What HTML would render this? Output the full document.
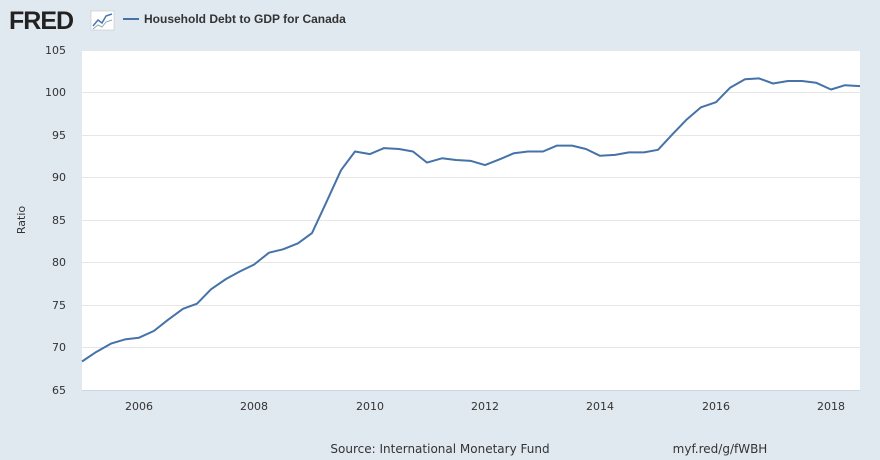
<!DOCTYPE html>
<html><head><meta charset="utf-8"><style>
html,body{margin:0;padding:0;width:880px;height:460px;background:#e1e9f0;overflow:hidden}
svg{display:block}
</style></head><body>
<svg width="880" height="460" xmlns="http://www.w3.org/2000/svg" font-family="DejaVu Sans, sans-serif">
<rect width="880" height="460" fill="#e1e9f0"/>
<text x="9" y="29" font-size="25" font-weight="bold" fill="#222" letter-spacing="-1" font-family="Liberation Sans, sans-serif">FRED</text>
<rect x="91" y="11" width="23" height="19" fill="#fff" stroke="#bbb" stroke-width="0.5"/>
<polyline points="93,26 98,20 102,23 106,16 112,14" fill="none" stroke="#4a78b0" stroke-width="1.5"/>
<polyline points="93,29 98,25 102,27 106,22 112,20" fill="none" stroke="#8ab" stroke-width="1"/>
<line x1="123" y1="19" x2="139" y2="19" stroke="#4572a7" stroke-width="2"/>
<text x="144" y="23" font-size="12" font-weight="bold" fill="#333" font-family="Liberation Sans, sans-serif">Household Debt to GDP for Canada</text>
<rect x="82" y="50" width="778" height="340" fill="#fff"/>
<g stroke="#e6e6e6" stroke-width="1">
<line x1="82" y1="50.5" x2="860" y2="50.5"/><line x1="82" y1="92.5" x2="860" y2="92.5"/>
<line x1="82" y1="135.5" x2="860" y2="135.5"/><line x1="82" y1="177.5" x2="860" y2="177.5"/>
<line x1="82" y1="220.5" x2="860" y2="220.5"/><line x1="82" y1="262.5" x2="860" y2="262.5"/>
<line x1="82" y1="305.5" x2="860" y2="305.5"/><line x1="82" y1="347.5" x2="860" y2="347.5"/>
</g>
<line x1="82" y1="390.5" x2="860" y2="390.5" stroke="#ccd6eb"/>
<g font-size="11" fill="#333" text-anchor="end">
<text x="66" y="54">105</text><text x="66" y="96">100</text><text x="66" y="139">95</text>
<text x="66" y="181">90</text><text x="66" y="224">85</text><text x="66" y="266">80</text>
<text x="66" y="309">75</text><text x="66" y="351">70</text><text x="66" y="394">65</text>
</g>
<g font-size="11" fill="#333" text-anchor="middle">
<text x="139" y="410">2006</text><text x="254" y="410">2008</text><text x="370" y="410">2010</text>
<text x="485" y="410">2012</text><text x="600" y="410">2014</text><text x="716" y="410">2016</text><text x="831" y="410">2018</text>
</g>
<text x="25" y="220" font-size="11" fill="#333" text-anchor="middle" transform="rotate(-90 25 220)">Ratio</text>
<polyline fill="none" stroke="#4572a7" stroke-width="2" stroke-linejoin="round" points="
82,361.5 96,352.1 111,343.6 125,339.4 139,337.7 154,330.9 168,319.8 183,308.8 197,303.7 211,289.3 226,279.0 240,271.4 254,264.6 269,252.7 283,249.3 298,243.3 312,233.1 327,200.8 341,170.2 355,151.5 370,154.1 384,148.1 399,149.0 413,151.5 427,162.6 442,158.3 456,160.0 471,160.9 485,165.1 500,159.2 514,153.2 528,151.5 543,151.5 557,145.6 572,145.6 586,149.0 600,155.8 615,154.9 629,152.4 644,152.4 658,149.8 673,133.7 687,119.2 701,107.3 716,102.2 730,87.8 745,79.3 759,78.4 773,83.5 788,81.0 802,81.0 816,82.7 831,89.5 845,85.2 860,86.1"/>
<text x="440" y="453" font-size="12" fill="#333" text-anchor="middle">Source: International Monetary Fund</text>
<text x="720" y="453" font-size="12" fill="#333" text-anchor="middle">myf.red/g/fWBH</text>
</svg>
</body></html>
